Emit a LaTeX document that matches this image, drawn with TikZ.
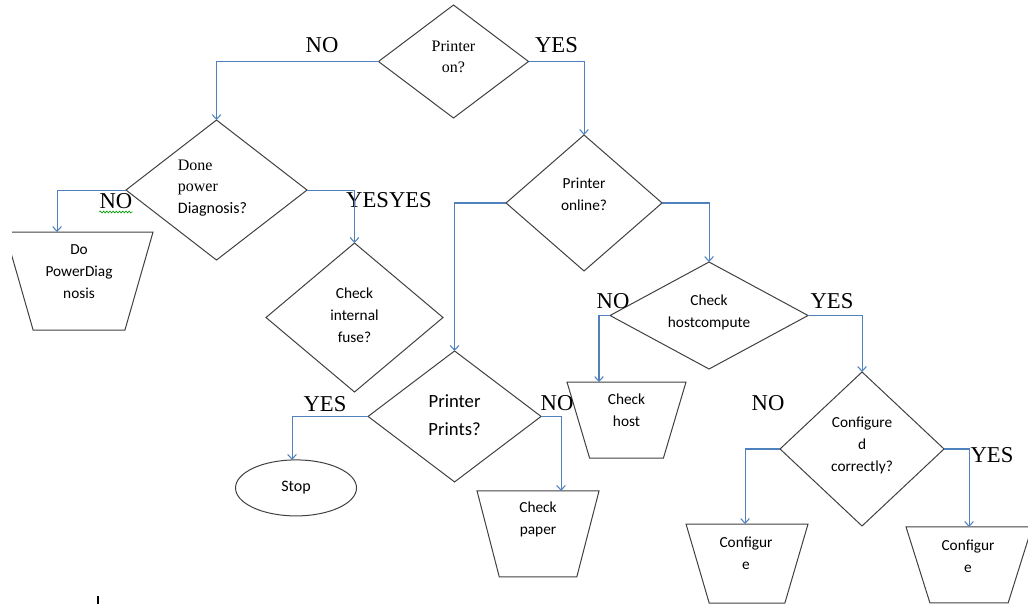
\documentclass[tikz,border=0pt]{standalone}
\usepackage{fontspec}
\setmainfont{Liberation Serif}
\newfontfamily\calibri{Carlito}
\usetikzlibrary{positioning,shapes.geometric,arrows.meta,calc,decorations.pathmorphing}

\definecolor{flowblue}{HTML}{4F81BD}
\definecolor{edgegray}{HTML}{404040}

\tikzset{
  decision/.style={diamond, draw=edgegray, line width=0.75pt, inner sep=0pt, outer sep=0pt},
  task/.style={trapezium, shape border rotate=180, trapezium stretches=true,
    trapezium left angle=73, trapezium right angle=73,
    draw=edgegray, line width=0.75pt, inner sep=1pt, outer sep=0pt},
  txt/.style={align=center, inner sep=0pt, font=\calibri\fontsize{11.5}{16.5}\selectfont},
  yn/.style={anchor=base, inner sep=0pt, font=\rmfamily\fontsize{17}{17}\selectfont},
  flow/.style={draw=flowblue, line width=0.8pt, -{Straight Barb[length=3.5pt,width=6.5pt]}},
  squiggly/.style={draw=green!60!black, line width=0.5pt, decorate,
    decoration={snake, amplitude=0.7pt, segment length=2.4pt}},
}

\begin{document}
\begin{tikzpicture}[x=0.75pt, y=-0.75pt, on grid]
    \useasboundingbox (0,0) rectangle (1028,604);

    % decisions
    \node [decision, minimum width=112.5pt, minimum height=84.75pt,
        label={[name=d1t, txt, font=\rmfamily\fontsize{12}{15.75}\selectfont, yshift=3.75pt]center:Printer\\on?}] (d1) at (453.5,61.5) {};

    \node [decision, minimum width=135.75pt, minimum height=105pt, below left=96.4pt and 177.75pt of d1,
        label={[name=d2t, txt, align=left, font=\rmfamily\fontsize{12}{16}\selectfont, xshift=-3pt, yshift=1.5pt]center:Done\\power\\{\calibri Diagnosis?}}] (d2) {};
    \node [decision, minimum width=132.75pt, minimum height=111.75pt, below right=95.6pt and 103.5pt of d2,
        label={[name=d3t, txt, yshift=1.5pt]center:Check\\internal\\fuse?}] (d3) {};

    \node [decision, minimum width=117pt, minimum height=102pt, below right=106.1pt and 97.9pt of d1,
        label={[name=d4t, txt, yshift=6.75pt]center:Printer\\online?}] (d4) {};
    \node [decision, minimum width=129.75pt, minimum height=98.25pt, below left=160.1pt and 97.1pt of d4,
        label={[name=d5t, txt, font=\calibri\fontsize{14}{21}\selectfont, yshift=1pt]center:Printer\\Prints?}] (d5) {};
    \node [decision, minimum width=148.5pt, minimum height=80.25pt, below right=84.4pt and 93.75pt of d4,
        label={[name=d6t, txt, yshift=2.6pt]center:Check\\hostcompute}] (d6) {};
    \node [decision, minimum width=123pt, minimum height=115.5pt, below right=100.1pt and 114.75pt of d6,
        label={[name=d7t, txt, yshift=3pt]center:Configure\\d\\correctly?}] (d7) {};

    % tasks
    \begin{scope}
        \clip (12,200) rectangle (300,350);
        \node [task, minimum width=111pt, minimum height=73.5pt, below left=68.25pt and 103.1pt of d2,
            label={[name=t1t, txt, yshift=7pt]center:Do\\PowerDiag\\nosis}] (t1) {};
    \end{scope}
    \node [task, minimum width=89.25pt, minimum height=57pt, below left=78.4pt and 61.9pt of d6,
        label={[name=t2t, txt, yshift=7.5pt]center:Check\\host}] (t2) {};
    \node [task, trapezium left angle=74, trapezium right angle=74, minimum width=91.5pt, minimum height=64.5pt, below right=88.1pt and 62.6pt of d5,
        label={[name=t3t, txt, yshift=10.9pt]center:Check\\paper}] (t3) {};
    \node [task, minimum width=91.5pt, minimum height=59.25pt, below left=85.9pt and 86.25pt of d7,
        label={[name=t4t, txt, xshift=-0.75pt, yshift=7.9pt]center:Configur\\e}] (t4) {};
    \node [task, minimum width=94.5pt, minimum height=57pt, below right=87pt and 80.25pt of d7,
        label={[name=t5t, txt, xshift=-0.75pt, yshift=6.75pt]center:Configur\\e}] (t5) {};

    \node [ellipse, draw=edgegray, line width=0.75pt, minimum width=90.75pt, minimum height=42pt,
        inner sep=0pt, outer sep=0pt, font=\calibri\fontsize{12}{14}\selectfont,
        below left=53.6pt and 118.9pt of d5] (stop) {Stop};

    % yes / no
    \node [yn] (no1) at (322,52) {NO};
    \node [yn] (yes1) at (556.5,52) {YES};
    \node [yn] (no2) at (116,208) {NO};
    \node [yn] (yes2) at (389,207) {YESYES};
    \node [yn] (yes3) at (325,411) {YES};
    \node [yn] (no3) at (557,410) {NO};
    \node [yn] (no4) at (613,308) {NO};
    \node [yn] (yes4) at (832,308) {YES};
    \node [yn] (no5) at (768,410) {NO};
    \node [yn] (yes5) at (992,462) {YES};

    \draw [squiggly] ([yshift=-3pt]no2.base west) -- ([yshift=-3pt]no2.base east);

    % connectors
    \draw [flow] (d1.west) -| (d2.north);
    \draw [flow] (d1.east) -| (d4.north);
    \draw [flow] (d2.west) -| ($(t1.north)+(-22,0)$);
    \draw [flow] (d2.east) -| (d3.north);
    \draw [flow] (d4.west) -| (d5.north);
    \draw [flow] (d4.east) -| (d6.north);
    \draw [flow] (d6.west) -| ($(t2.north)+(-27.5,0)$);
    \draw [flow] (d6.east) -| (d7.north);
    \draw [flow] (d5.west) -| ($(stop.north)+(-4,0)$);
    \draw [flow] (d5.east) -| ($(t3.north)+(23,0)$);
    \draw [flow] (d7.west) -| ($(t4.north)+(-2,0)$);
    \draw [flow] (d7.east) -| (t5.north);

    \draw [line width=1.5pt] (98,596) -- (98,604);
\end{tikzpicture}
\end{document}
